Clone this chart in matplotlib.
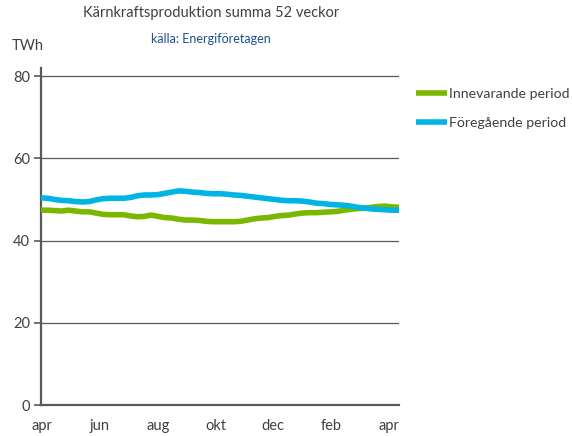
import matplotlib
matplotlib.use("Agg")
import matplotlib.pyplot as plt
import numpy as np

plt.rcParams['font.family'] = ['Lato', 'DejaVu Sans']

month_labels = ["apr", "jun", "aug", "okt", "dec", "feb", "apr"]

innevarande = [47.4, 47.4, 47.3, 47.2, 47.4, 47.2, 47.0, 47.0, 46.7, 46.4,
               46.3, 46.3, 46.3, 46.0, 45.8, 45.9, 46.2, 45.9, 45.6, 45.5,
               45.2, 45.0, 45.0, 44.9, 44.7, 44.6, 44.6, 44.6, 44.6, 44.7,
               45.0, 45.3, 45.5, 45.6, 45.9, 46.1, 46.2, 46.5, 46.7, 46.8,
               46.8, 46.9, 47.0, 47.1, 47.4, 47.6, 47.8, 47.9, 48.1, 48.3,
               48.4, 48.2, 48.1]

foregaende = [50.4, 50.3, 50.0, 49.8, 49.7, 49.5, 49.4, 49.5, 49.9, 50.2,
              50.3, 50.3, 50.3, 50.5, 50.9, 51.1, 51.1, 51.2, 51.5, 51.8,
              52.1, 52.0, 51.8, 51.7, 51.5, 51.4, 51.4, 51.3, 51.1, 51.0,
              50.8, 50.6, 50.4, 50.2, 50.0, 49.8, 49.7, 49.7, 49.6, 49.4,
              49.1, 49.0, 48.8, 48.7, 48.6, 48.4, 48.1, 47.9, 47.7, 47.6,
              47.5, 47.4, 47.4]

W, H = 572, 436
fig = plt.figure(figsize=(W / 100, H / 100), dpi=100)
ax = fig.add_axes([41 / W, 1 - 405 / H, 358 / W, (405 - 68) / H])

weeks = np.arange(len(innevarande))
green = "#7ab800"
blue = "#00b4e4"
ax.plot(weeks, innevarande, color=green, lw=4.0, solid_capstyle="butt",
        label="Innevarande period", zorder=3)
ax.plot(weeks, foregaende, color=blue, lw=4.0, solid_capstyle="butt",
        label="Föregående period", zorder=3)

ax.set_xlim(0, len(innevarande) - 1)
ax.set_ylim(0, 82)
ax.set_yticks([0, 20, 40, 60, 80])
ax.set_xticks(np.arange(len(month_labels)) * 8.4 + 0.15)
ax.set_xticklabels(month_labels)

gridc = "#595959"
for v in [20, 40, 60, 80]:
    ax.axhline(v, color=gridc, lw=0.9, zorder=1)

for s in ["top", "right"]:
    ax.spines[s].set_visible(False)
ax.spines["left"].set_color(gridc)
ax.spines["left"].set_linewidth(1.6)
ax.spines["bottom"].set_color(gridc)
ax.spines["bottom"].set_linewidth(1.6)
ax.tick_params(axis="y", length=5, width=1.2, color=gridc, labelsize=10.5,
               labelcolor="#404040", pad=3)
ax.tick_params(axis="x", length=0, labelsize=10.5, labelcolor="#404040", pad=10)

fig.text(211 / W, 1 - 13 / H, "Kärnkraftsproduktion summa 52 veckor",
         ha="center", va="center", fontsize=10.5, color="#404040")
fig.text(211 / W, 1 - 39 / H, "källa: Energiföretagen",
         ha="center", va="center", fontsize=9, color="#1f4e8c")
fig.text(12 / W, 1 - 46 / H, "TWh", ha="left", va="center",
         fontsize=10.5, color="#404040")

leg = fig.legend(loc="upper left", bbox_to_anchor=(410 / W, 1 - 82 / H),
                 frameon=False, fontsize=10.2, handlelength=2.2,
                 handletextpad=0.15, labelspacing=1.2, borderaxespad=0)
for t in leg.get_texts():
    t.set_color("#404040")

fig.savefig("out.png", dpi=100)
